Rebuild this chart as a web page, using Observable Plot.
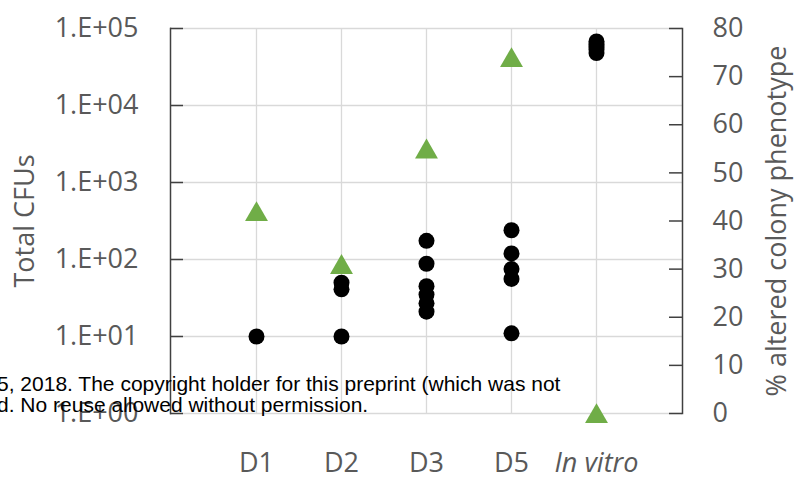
<!DOCTYPE html>
<html>
<head>
<meta charset="utf-8">
<script src="https://cdn.jsdelivr.net/npm/d3@7"></script>
<script src="https://cdn.jsdelivr.net/npm/@observablehq/plot@0.6"></script>
<style>
  body { margin: 0; background: #fff; }
  #chart { position: relative; width: 794px; height: 479px; overflow: hidden; background: #fff; }
  #chart svg { position: absolute; left: 0; top: 0; }
  #notice {
    position: absolute; left: -3px; top: 373px;
    font-family: "Liberation Sans", Arial, sans-serif; font-size: 21px; line-height: 21px;
    color: #000; white-space: nowrap; pointer-events: none;
  }
</style>
</head>
<body>
<div id="chart">
  <div id="notice">5, 2018. The copyright holder for this preprint (which was not<br>d. No reuse allowed without permission.</div>
</div>
<script>
// Sampling groups along the x axis
const categories = ["D1", "D2", "D3", "D5", "In vitro"];

// Total CFUs per replicate (left, log axis)
const cfuD1 = [10];
const cfuD2 = [50, 41, 10];
const cfuD3 = [175, 88, 45, 35, 27, 21];
const cfuD5 = [240, 120, 75, 56, 11];
const cfuInVitro = [48000, 53000, 58000, 63000, 68000];

// % altered colony phenotype per group (right, linear axis)
const alteredPct = [42, 31, 55, 74, 0];

// Tick values
const cfuTicks = [1, 10, 100, 1000, 10000, 100000];
const pctTicks = [0, 10, 20, 30, 40, 50, 60, 70, 80];

const cfuGroups = [cfuD1, cfuD2, cfuD3, cfuD5, cfuInVitro];
const cfuPoints = categories.flatMap((day, i) => cfuGroups[i].map(cfu => ({day, cfu})));
const pctPoints = categories.map((day, i) => ({day, pct: alteredPct[i]}));

const W = 794, H = 479;
const mL = 170, mR = 112, mT = 28, mB = 66;
const innerW = W - mL - mR;
const grid = "#d9d9d9", axisLine = "#404040", textColor = "#595959";
const font = "'Open Sans', sans-serif";
const fs = 27;

const shared = {
  width: W, height: H,
  marginLeft: mL, marginRight: mR, marginTop: mT, marginBottom: mB,
  style: {fontFamily: font, fontSize: fs + "px", color: textColor, background: "transparent", overflow: "visible"},
  x: {type: "point", domain: categories, padding: 1, axis: null}
};

// Base layer: grid, CFU log axis, category labels, CFU dots
const base = Plot.plot({
  ...shared,
  y: {type: "log", domain: [1, 1e5], axis: null},
  marks: [
    Plot.ruleX(categories, {x: d => d, stroke: grid, strokeWidth: 1.3}),
    Plot.ruleY(cfuTicks, {y: d => d, stroke: grid, strokeWidth: 1.3}),
    Plot.tickY(cfuTicks, {y: d => d, stroke: axisLine, strokeWidth: 1.5, insetRight: innerW - 13}),
    Plot.frame({anchor: "left", stroke: axisLine, strokeWidth: 1.5}),
    Plot.axisY({
      anchor: "left", ticks: cfuTicks, tickSize: 0, tickPadding: 32, label: null,
      tickFormat: d => "1.E+" + String(Math.round(Math.log10(d))).padStart(2, "0"),
      fill: textColor, fontSize: fs
    }),
    Plot.text(["Total CFUs"], {frameAnchor: "left", textAnchor: "middle", dx: -145, rotate: -90, fill: textColor, fontSize: fs}),
    Plot.text(categories.filter(c => c !== "In vitro"), {x: d => d, frameAnchor: "bottom", dy: 58, fill: textColor, fontSize: fs}),
    Plot.text(categories.filter(c => c === "In vitro"), {x: d => d, frameAnchor: "bottom", dy: 58, fill: textColor, fontSize: fs, fontStyle: "italic"}),
    Plot.dot(cfuPoints, {x: "day", y: "cfu", r: 8, fill: "#000", stroke: null})
  ]
});

// Overlay layer: % altered axis on the right and triangle markers
const overlay = Plot.plot({
  ...shared,
  y: {domain: [0, 80], axis: null},
  marks: [
    Plot.tickY(pctTicks, {y: d => d, stroke: axisLine, strokeWidth: 1.5, insetLeft: innerW - 13}),
    Plot.frame({anchor: "right", stroke: axisLine, strokeWidth: 1.5}),
    Plot.axisY({anchor: "right", ticks: pctTicks, tickSize: 0, tickPadding: 30, label: null, fill: textColor, fontSize: fs}),
    Plot.text(["% altered colony phenotype"], {frameAnchor: "right", textAnchor: "middle", dx: 95, rotate: -90, fill: textColor, fontSize: fs}),
    // triangles are centred on their bounding box, so shift the centroid down by a sixth of the height
    Plot.dot(pctPoints, {x: "day", y: "pct", symbol: "triangle", r: 8.5, fill: "#70ad47", stroke: null, dy: 3})
  ]
});

const chart = document.getElementById("chart");
const notice = document.getElementById("notice");
chart.insertBefore(base, notice);
chart.insertBefore(overlay, notice);
</script>
</body>
</html>
